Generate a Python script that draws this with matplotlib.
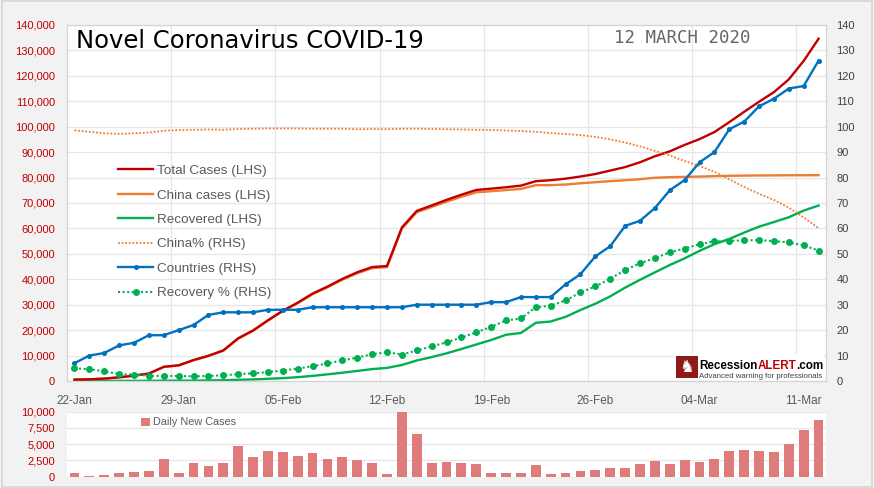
import numpy as np
import pandas as pd
import matplotlib
matplotlib.use("Agg")
import matplotlib.pyplot as plt
from matplotlib.patches import Rectangle
from matplotlib.text import Annotation
from matplotlib.ticker import FuncFormatter, MultipleLocator

# =========================
# DATA
# =========================
DAYS = pd.date_range("2020-01-22", "2020-03-12")   # 51 daily points

TOTAL_CASES = [555, 654, 941, 1434, 2118, 2927, 5578, 6166, 8234, 9927,
               12038, 16787, 19881, 23892, 27635, 30794, 34391, 37120, 40150, 42762,
               44802, 45221, 60368, 66885, 69030, 71224, 73258, 75136, 75639, 76197,
               76819, 78572, 78958, 79561, 80406, 81388, 82746, 84112, 86011, 88369,
               90306, 92840, 95120, 97886, 101801, 105847, 109821, 113590, 118620, 125875,
               134600]
CHINA_CASES = [548, 643, 920, 1406, 2075, 2877, 5509, 6087, 8141, 9802,
               11891, 16630, 19716, 23707, 27440, 30587, 34110, 36814, 39829, 42354,
               44386, 44759, 59895, 66358, 68413, 70513, 72434, 74211, 74619, 75077,
               75550, 77001, 77022, 77241, 77754, 78166, 78600, 78928, 79356, 79932,
               80136, 80261, 80386, 80537, 80690, 80770, 80823, 80860, 80887, 80921,
               80932]
RECOVERED = [28, 30, 36, 39, 52, 61, 107, 126, 143, 222,
             284, 472, 623, 852, 1124, 1487, 2011, 2616, 3244, 3946,
             4683, 5150, 6295, 8058, 9395, 10865, 12583, 14352, 16121, 18177,
             18890, 22886, 23394, 25227, 27905, 30384, 33277, 36711, 39782, 42716,
             45602, 48228, 51170, 53796, 55865, 58358, 60694, 62494, 64404, 67003,
             69000]
CHINA_PCT = [98.6, 98.0, 97.4, 97.2, 97.4, 97.7, 98.4, 98.7, 98.8, 98.9,
             98.8, 99.1, 99.2, 99.3, 99.3, 99.3, 99.2, 99.2, 99.2, 99.0,
             99.1, 99.0, 99.2, 99.2, 99.1, 99.0, 98.9, 98.8, 98.7, 98.5,
             98.3, 98.0, 97.5, 97.1, 96.7, 96.0, 95.0, 93.8, 92.3, 90.5,
             88.7, 86.5, 84.5, 82.3, 79.3, 76.3, 73.6, 71.2, 68.2, 64.3,
             60.1]
COUNTRIES = [7, 10, 11, 14, 15, 18, 18, 20, 22, 26,
             27, 27, 27, 28, 28, 28, 29, 29, 29, 29,
             29, 29, 29, 30, 30, 30, 30, 30, 31, 31,
             33, 33, 33, 38, 42, 49, 53, 61, 63, 68,
             75, 79, 86, 90, 99, 102, 108, 111, 115, 116,
             126]
RECOVERY_PCT = [5.0, 4.6, 3.8, 2.7, 2.5, 2.1, 1.9, 2.0, 1.8, 2.0,
                2.2, 2.7, 3.0, 3.5, 4.1, 4.9, 5.8, 6.9, 8.1, 9.2,
                10.5, 11.3, 10.4, 12.0, 13.6, 15.2, 17.1, 19.1, 21.3, 23.8,
                24.6, 29.0, 29.6, 31.7, 34.8, 37.2, 40.2, 43.6, 46.3, 48.3,
                50.6, 52.1, 53.8, 54.9, 55.1, 55.3, 55.4, 55.0, 54.5, 53.3,
                51.3]
DAILY_NEW = [555, 99, 287, 493, 684, 809, 2651, 588, 2068, 1693,
             2111, 4749, 3094, 4011, 3743, 3159, 3597, 2729, 3030, 2612,
             2040, 419, 15147, 6517, 2145, 2194, 2034, 1878, 503, 558,
             622, 1753, 386, 603, 845, 982, 1358, 1366, 1899, 2358,
             1937, 2534, 2280, 2766, 3915, 4046, 3974, 3769, 5030, 7255,
             8725]

TITLE = "Novel Coronavirus COVID-19"
DATE_STAMP = "12 MARCH 2020"

# =========================
# STYLE
# =========================
RED = "#C00000"
ORANGE = "#ED7D31"
GREEN = "#00B050"
BLUE = "#0070C0"
BAR = "#DF7B7B"
GRID = "#E6E6E6"
TXT = "#595959"

plt.rcParams["font.family"] = ["Liberation Sans", "DejaVu Sans"]

fig = plt.figure(figsize=(8.74, 4.88), dpi=100, facecolor="#F2F2F2")
fig.add_artist(Rectangle((0.002, 0.002), 0.996, 0.996, transform=fig.transFigure,
                         fill=False, edgecolor="#D4D4D4", lw=1.2))

ax = fig.add_axes([0.0767, 0.2193, 0.8684, 0.7295])
ax2 = ax.twinx()
axb = fig.add_axes([0.0767, 0.0232, 0.8684, 0.1332])

x = np.arange(len(DAYS))
tick_pos = x[::7]
tick_lab = [d.strftime("%d-%b") for d in DAYS[::7]]

# ---- main chart, LHS
ax.set_facecolor("white")
l_total, = ax.plot(x, TOTAL_CASES, color=RED, lw=1.7, label="Total Cases (LHS)", zorder=3)
l_china, = ax.plot(x, CHINA_CASES, color=ORANGE, lw=1.7, label="China cases (LHS)", zorder=2)
l_rec, = ax.plot(x, RECOVERED, color=GREEN, lw=1.7, label="Recovered (LHS)", zorder=2)
ax.set_xlim(-0.5, len(x) - 0.5)
ax.set_ylim(0, 140000)
ax.yaxis.set_major_locator(MultipleLocator(10000))
ax.yaxis.set_major_formatter(FuncFormatter(lambda v, p: f"{int(v):,}"))
ax.set_xticks(tick_pos)
ax.set_xticklabels(tick_lab)
ax.set_xticks(tick_pos[1:] - 0.5, minor=True)
ax.grid(True, axis="y", color=GRID, lw=0.9)
ax.grid(True, axis="x", which="minor", color=GRID, lw=0.9)
ax.set_axisbelow(True)
ax.tick_params(axis="y", length=0, pad=8.5, labelsize=8, labelcolor=RED)
ax.tick_params(axis="x", which="both", length=0, pad=10, labelsize=8.5, labelcolor=TXT)
for s in ax.spines.values():
    s.set_color("#D4D4D4")

# ---- main chart, RHS
l_cpct, = ax2.plot(x, CHINA_PCT, color=ORANGE, lw=1.3, ls=(0, (1, 1)), label="China% (RHS)")
l_cty, = ax2.plot(x, COUNTRIES, color=BLUE, lw=1.7, marker="o", ms=2.6, label="Countries (RHS)")
l_rpct, = ax2.plot(x, RECOVERY_PCT, color=GREEN, lw=1.5, ls=(0, (1, 1.2)), marker="o", ms=4,
                   label="Recovery % (RHS)")
ax2.set_ylim(0, 140)
ax2.yaxis.set_major_locator(MultipleLocator(10))
ax2.tick_params(axis="y", length=0, pad=7.5, labelsize=8, labelcolor="#404040")
for s in ax2.spines.values():
    s.set_color("#D4D4D4")

handles = [l_total, l_china, l_rec, l_cpct, l_cty, l_rpct]
leg = ax.legend(handles=handles, loc="upper left", bbox_to_anchor=(111 / 874, 1 - 158 / 488),
                bbox_transform=fig.transFigure, frameon=False, fontsize=9.7,
                handlelength=2.65, handletextpad=0.3, labelspacing=0.89, borderpad=0)
for t in leg.get_texts():
    t.set_color(TXT)

fig.text(76 / 874, 1 - 41 / 488, TITLE, fontsize=17.5, color="black",
         family="DejaVu Sans", va="center", ha="left")
fig.text(682 / 874, 1 - 38 / 488, DATE_STAMP, fontsize=12.5, color="#666666",
         family="DejaVu Sans Mono", va="center", ha="center")

# ---- logo
fig.add_artist(Rectangle((674 / 874, 1 - 380 / 488), 150 / 874, 26 / 488,
                         transform=fig.transFigure, facecolor="white", edgecolor="none", zorder=5))
fig.add_artist(Rectangle((676 / 874, 1 - 378 / 488), 22 / 874, 22 / 488,
                         transform=fig.transFigure, facecolor="#8E1B1B", edgecolor="none", zorder=6))
fig.text(687 / 874, 1 - 367 / 488, "\u265E", fontsize=12, color="white", family="DejaVu Sans",
         ha="center", va="center", zorder=7)
t1 = fig.text(699 / 874, 1 - 369 / 488, "Recession", fontsize=8.4, fontweight="bold",
              color="black", zorder=7)
t2 = Annotation("ALERT", xy=(1, 0), xycoords=t1, va="bottom", ha="left", fontsize=8.4,
                fontweight="bold", color="#C00000", annotation_clip=False, zorder=7)
fig.add_artist(t2)
t3 = Annotation(".com", xy=(1, 0), xycoords=t2, va="bottom", ha="left", fontsize=8.4,
                fontweight="bold", color="black", annotation_clip=False, zorder=7)
fig.add_artist(t3)
fig.text(699 / 874, 1 - 378 / 488, "Advanced warning for professionals", fontsize=5.6,
         color="#404040", zorder=7)

# ---- daily new cases
axb.set_facecolor("white")
axb.bar(x, DAILY_NEW, width=0.66, color=BAR, label="Daily New Cases", zorder=2)
axb.set_xlim(-0.5, len(x) - 0.5)
axb.set_ylim(0, 10000)
axb.set_yticks([0, 2500, 5000, 7500, 10000])
axb.yaxis.set_major_formatter(FuncFormatter(lambda v, p: f"{int(v):,}"))
axb.set_xticks([])
axb.grid(True, axis="y", color=GRID, lw=0.9)
axb.set_axisbelow(True)
axb.tick_params(axis="y", length=0, pad=8.5, labelsize=8, labelcolor=RED)
for s in axb.spines.values():
    s.set_visible(False)
lb = axb.legend(loc="upper left", bbox_to_anchor=(136 / 874, 1 - 412 / 488),
                bbox_transform=fig.transFigure, frameon=False, fontsize=7.8,
                handlelength=0.75, handleheight=0.75, handletextpad=0.35, borderpad=0)
for t in lb.get_texts():
    t.set_color(TXT)

fig.savefig("out.png", dpi=100, facecolor=fig.get_facecolor())
